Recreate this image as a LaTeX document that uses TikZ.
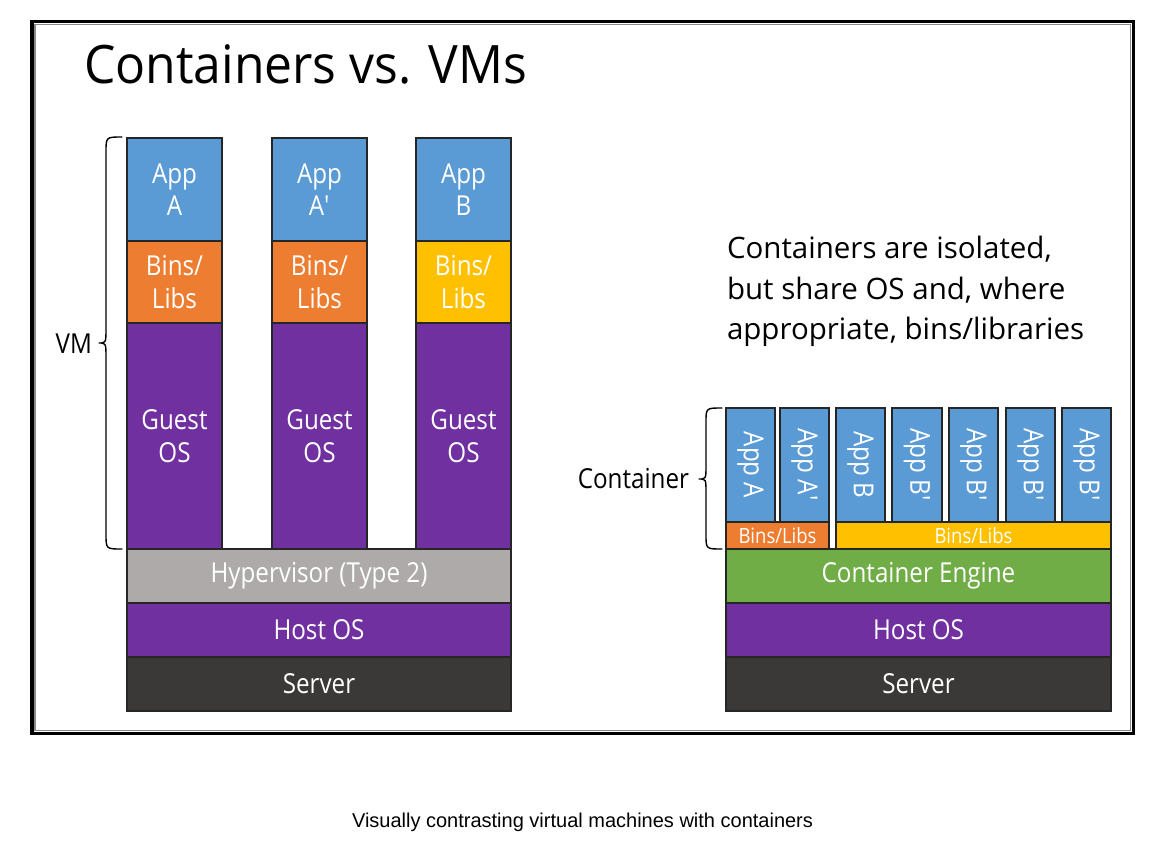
\documentclass[tikz,border=0pt]{standalone}
\usepackage{fontspec}
\usepackage{graphicx}
\setmainfont{Open Sans}
\newfontfamily\condfont{Open Sans}[FakeStretch=0.88]
\newfontfamily\titlefont{Open Sans}[FakeStretch=0.94]
\newfontfamily\capfont{Liberation Sans}
\definecolor{cblue}{HTML}{5B9BD5}
\definecolor{corange}{HTML}{ED7D31}
\definecolor{cyellow}{HTML}{FFC000}
\definecolor{cpurple}{HTML}{7030A0}
\definecolor{cgray}{HTML}{AEAAAA}
\definecolor{cdark}{HTML}{3B3838}
\definecolor{cgreen}{HTML}{70AD47}
\definecolor{cframe}{HTML}{8A8A8A}
\newcommand\blk[7]{\node[#6, minimum width={#4-#2}, minimum height={#5-#3}] (#1) at ({(#2+#4)/2},{(#3+#5)/2}) {#7};}
\newcommand\rot[1]{\rotatebox{-90}{#1}}
\begin{document}
\begin{tikzpicture}[x=1pt,y=-1pt,
  layer/.style={draw=black!85, line width=1.3pt, inner sep=0pt, outer sep=0pt, text=white,
    font=\condfont\fontsize{27.5}{32.5}\selectfont, align=center},
  small/.style={layer, font=\condfont\fontsize{21}{24}\selectfont},
  lbl/.style={inner sep=0pt, outer sep=0pt, text=black},
  bracepath/.style={draw=black, line width=1.4pt, line cap=round, line join=round}]
\useasboundingbox (0,0) rectangle (1166,851);
% frame
\draw[line width=3.3pt, black] (32,21.3) rectangle (1133.3,733.3);
\draw[line width=1.4pt, cframe] (35,24.3) rectangle (1130.3,730.3);
% title
\node[lbl, anchor=base west, font=\titlefont\fontsize{53}{60}\selectfont] (title) at (84,83) {Containers vs. VMs};
% left VM stacks
\blk{appA}{127}{138}{222}{241}{layer, fill=cblue}{App\\A}
\blk{appAp}{272}{138}{367}{241}{layer, fill=cblue}{App\\A\textquotesingle}
\blk{appB}{416}{138}{511}{241}{layer, fill=cblue}{App\\B}
\blk{binsA}{127}{241}{222}{323}{layer, fill=corange}{Bins/\\Libs}
\blk{binsAp}{272}{241}{367}{323}{layer, fill=corange}{Bins/\\Libs}
\blk{binsB}{416}{241}{511}{323}{layer, fill=cyellow}{Bins/\\Libs}
\blk{guestA}{127}{323}{222}{549}{layer, fill=cpurple}{Guest\\OS}
\blk{guestAp}{272}{323}{367}{549}{layer, fill=cpurple}{Guest\\OS}
\blk{guestB}{416}{323}{511}{549}{layer, fill=cpurple}{Guest\\OS}
\blk{hyper}{127}{549}{511}{603}{layer, fill=cgray}{Hypervisor (Type 2)}
\blk{hostL}{127}{603}{511}{657}{layer, fill=cpurple}{Host OS}
\blk{serverL}{127}{657}{511}{711}{layer, fill=cdark}{Server}
% VM brace
\coordinate (vmT) at (122,137);
\coordinate (vmB) at (122,549);
\draw[bracepath] (vmT) .. controls (106,137) .. (106,152) -- (106,328)
  .. controls (106,343) .. (99,343) .. controls (106,343) .. (106,358) -- (106,534)
  .. controls (106,549) .. (vmB);
\node[lbl, anchor=base east, font=\condfont\fontsize{27.5}{30}\selectfont] (vm) at (92,353) {VM};
% text block
\node[lbl, anchor=base west, font=\fontsize{29.5}{40}\selectfont] (t1) at (727,258) {Containers are isolated,};
\node[lbl, anchor=base west, font=\fontsize{29.5}{40}\selectfont] (t2) at (727,299) {but share OS and, where};
\node[lbl, anchor=base west, font=\fontsize{29.5}{40}\selectfont] (t3) at (727,339) {appropriate, bins/libraries};
% right container stack
\blk{cA}{726}{408}{775}{522}{layer, fill=cblue}{\rot{App A}}
\blk{cAp}{780}{408}{829}{522}{layer, fill=cblue}{\rot{App A\textquotesingle}}
\blk{cB}{836}{408}{885}{522}{layer, fill=cblue}{\rot{App B}}
\blk{cBp1}{892}{408}{942}{522}{layer, fill=cblue}{\rot{App B\textquotesingle}}
\blk{cBp2}{949}{408}{998}{522}{layer, fill=cblue}{\rot{App B\textquotesingle}}
\blk{cBp3}{1006}{408}{1055}{522}{layer, fill=cblue}{\rot{App B\textquotesingle}}
\blk{cBp4}{1062}{408}{1111}{522}{layer, fill=cblue}{\rot{App B\textquotesingle}}
\blk{cbinsA}{726}{522}{829}{549}{small, fill=corange}{Bins/Libs}
\blk{cbinsB}{836}{522}{1111}{549}{small, fill=cyellow}{Bins/Libs}
\blk{engine}{726}{549}{1111}{603}{layer, fill=cgreen}{Container Engine}
\blk{hostR}{726}{603}{1111}{657}{layer, fill=cpurple}{Host OS}
\blk{serverR}{726}{657}{1111}{711}{layer, fill=cdark}{Server}
% container brace
\coordinate (ctT) at (722,408);
\coordinate (ctB) at (722,549);
\draw[bracepath] (ctT) .. controls (706,408) .. (706,422) -- (706,465)
  .. controls (706,479) .. (699,479) .. controls (706,479) .. (706,493) -- (706,535)
  .. controls (706,549) .. (ctB);
\node[lbl, anchor=base east, font=\condfont\fontsize{27.5}{30}\selectfont] (ctl) at (689,488) {Container};
% caption
\node[lbl, anchor=base, font=\capfont\fontsize{20}{24}\selectfont] (cap) at (582.5,827) {Visually contrasting virtual machines with containers};
\end{tikzpicture}
\end{document}
